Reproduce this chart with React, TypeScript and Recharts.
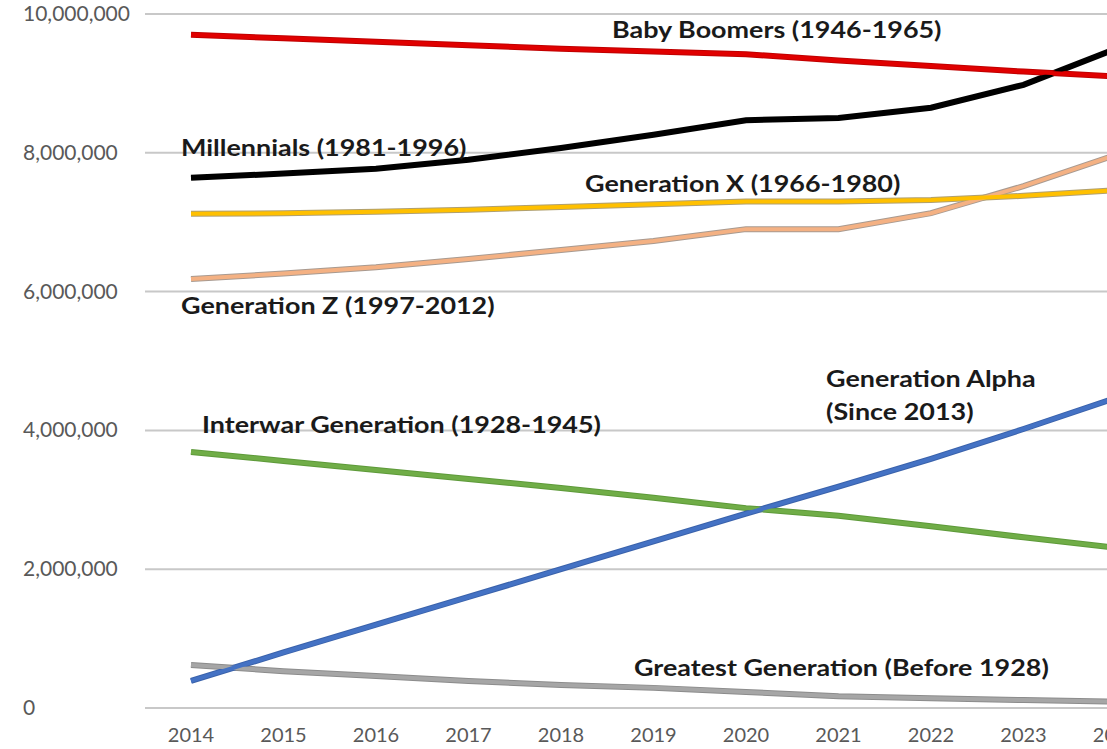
import { LineChart, Line, XAxis, YAxis, CartesianGrid } from "recharts";

const YEARS = ["2014", "2015", "2016", "2017", "2018", "2019", "2020", "2021", "2022", "2023", "2024"];

const BABY_BOOMERS = [9.7, 9.65, 9.6, 9.55, 9.5, 9.46, 9.42, 9.33, 9.25, 9.17, 9.1];
const MILLENNIALS = [7.64, 7.7, 7.77, 7.9, 8.07, 8.26, 8.47, 8.5, 8.65, 8.98, 9.5];
const GEN_X = [7.12, 7.13, 7.15, 7.18, 7.22, 7.26, 7.3, 7.3, 7.32, 7.38, 7.46];
const GEN_Z = [6.18, 6.26, 6.35, 6.47, 6.6, 6.73, 6.9, 6.9, 7.13, 7.52, 7.97];
const INTERWAR = [3.69, 3.56, 3.43, 3.3, 3.17, 3.03, 2.88, 2.77, 2.62, 2.46, 2.31];
const GEN_ALPHA = [0.39, 0.8, 1.2, 1.6, 2.0, 2.4, 2.8, 3.19, 3.59, 4.02, 4.47];
const GREATEST = [0.62, 0.53, 0.46, 0.39, 0.33, 0.29, 0.23, 0.17, 0.14, 0.115, 0.09];

const Y_TICKS = [0, 2000000, 4000000, 6000000, 8000000, 10000000];

const SERIES = [
  { key: "greatest", values: GREATEST, color: "#a6a6a6", edge: "#8c8c8c" },
  { key: "interwar", values: INTERWAR, color: "#70ad47", edge: "#5e9a3a" },
  { key: "alpha", values: GEN_ALPHA, color: "#4472c4", edge: "#3a62ab" },
  { key: "genz", values: GEN_Z, color: "#f4b183", edge: "#a89a90" },
  { key: "genx", values: GEN_X, color: "#ffc000", edge: "#b0a070" },
  { key: "millennials", values: MILLENNIALS, color: "#000000", edge: "#000000" },
  { key: "boomers", values: BABY_BOOMERS, color: "#e00000", edge: "#c00000" },
];

const LABELS = [
  { text: "Baby Boomers (1946-1965)", x: 612, y: 29 },
  { text: "Millennials (1981-1996)", x: 181, y: 147 },
  { text: "Generation X (1966-1980)", x: 585, y: 183 },
  { text: "Generation Z (1997-2012)", x: 181, y: 305 },
  { text: "Generation Alpha", x: 826, y: 378 },
  { text: "(Since 2013)", x: 826, y: 411 },
  { text: "Interwar Generation (1928-1945)", x: 202, y: 424 },
  { text: "Greatest Generation (Before 1928)", x: 634, y: 667 },
];

const data = YEARS.map((year, i) => {
  const row: Record<string, string | number> = { year };
  SERIES.forEach((s) => {
    row[s.key] = s.values[i] * 1000000;
  });
  return row;
});

const fmt = new Intl.NumberFormat("en-US");

function YTick({ y, payload }: any) {
  return (
    <text x={23} y={y} dy={7} textAnchor="start" fill="#595959" fontSize={21} fontFamily="Lato">
      {fmt.format(payload.value)}
    </text>
  );
}

export default function App() {
  return (
    <div style={{ position: "absolute", left: 0, top: 0, width: 1107, height: 749, overflow: "hidden", background: "#fff" }}>
      <LineChart
        width={1172}
        height={749}
        data={data}
        margin={{ top: 14, right: 10, bottom: 0, left: 0 }}
      >
        <CartesianGrid vertical={false} stroke="#c8c8c8" strokeWidth={2} />
        <XAxis
          dataKey="year"
          axisLine={false}
          tickLine={false}
          padding={{ left: 46, right: 46 }}
          height={41}
          tick={{ fontSize: 20, fill: "#595959", fontFamily: "Lato" }}
          tickMargin={14}
          interval={0}
        />
        <YAxis
          width={145}
          domain={[0, 10000000]}
          ticks={Y_TICKS}
          axisLine={false}
          tickLine={false}
          tick={<YTick />}
        />
        {SERIES.map((s) => (
          <Line
            key={s.key + "-edge"}
            dataKey={s.key}
            stroke={s.edge}
            strokeWidth={6}
            dot={false}
            activeDot={false}
            isAnimationActive={false}
          />
        ))}
        {SERIES.map((s) => (
          <Line
            key={s.key}
            dataKey={s.key}
            stroke={s.color}
            strokeWidth={4}
            dot={false}
            activeDot={false}
            isAnimationActive={false}
          />
        ))}
      </LineChart>
      {LABELS.map((l) => (
        <div
          key={l.text}
          style={{
            position: "absolute",
            left: l.x,
            top: l.y,
            transform: "translateY(-50%) scaleX(1.17)",
            transformOrigin: "left center",
            fontFamily: "Lato",
            fontWeight: 700,
            fontSize: 23,
            color: "#1a1a1a",
            whiteSpace: "nowrap",
            lineHeight: 1,
          }}
        >
          {l.text}
        </div>
      ))}
    </div>
  );
}
